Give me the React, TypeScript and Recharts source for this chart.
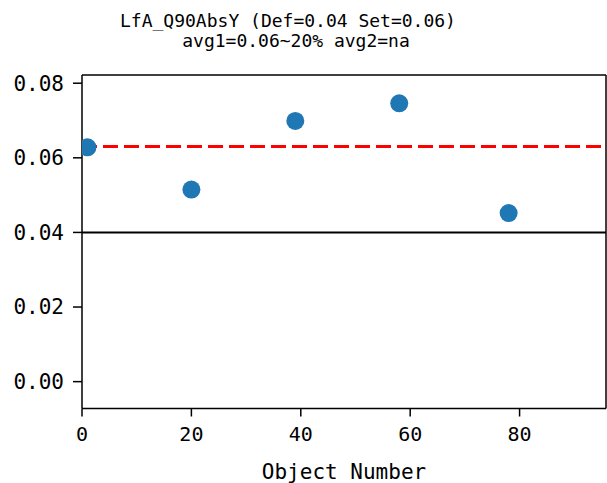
import { ScatterChart, Scatter, XAxis, YAxis, ReferenceLine } from "recharts";

const objectNumbers = [1, 20, 39, 58, 78];
const values = [0.0628, 0.0515, 0.0699, 0.0746, 0.0452];
const xTicks = [0, 20, 40, 60, 80];
const yTicks = [0, 0.02, 0.04, 0.06, 0.08];
const xDomain = [0, 95.8];
const yDomain = [-0.0072, 0.0822];
const avgLine = 0.063;
const defLine = 0.04;
const titleLines = ["LfA_Q90AbsY (Def=0.04 Set=0.06)", "avg1=0.06~20% avg2=na"];

const points = objectNumbers.map((x, i) => ({ x, y: values[i] }));

const font = "'DejaVu Sans Mono', monospace";

const Dot = (props: any) => <circle cx={props.cx} cy={props.cy} r={9} fill="#1f77b4" />;

export default function App() {
  return (
    <div style={{ position: "absolute", left: 0, top: 0, width: 607, height: 483, background: "#fff" }}>
      <svg width={607} height={75} style={{ position: "absolute", left: 0, top: 0 }}>
        <text x={288} y={27} textAnchor="middle" fontFamily={font} fontSize={18} fill="#000">
          {titleLines[0]}
        </text>
        <text x={296} y={47} textAnchor="middle" fontFamily={font} fontSize={18} fill="#000">
          {titleLines[1]}
        </text>
      </svg>
      <ScatterChart width={607} height={483} margin={{ top: 75, right: 1, bottom: 0, left: 0 }}>
        <XAxis
          type="number"
          dataKey="x"
          domain={xDomain}
          ticks={xTicks}
          allowDataOverflow
          height={74.5}
          tickSize={8}
          tickMargin={10}
          stroke="#000"
          strokeWidth={1.5}
          tick={{ fill: "#000", fontSize: 20, fontFamily: font }}
          label={{ value: "Object Number", position: "insideBottom", offset: 4, fill: "#000", fontSize: 21, fontFamily: font }}
        />
        <YAxis
          type="number"
          dataKey="y"
          domain={yDomain}
          ticks={yTicks}
          allowDataOverflow
          width={82}
          tickSize={9}
          tickMargin={9}
          stroke="#000"
          strokeWidth={1.5}
          tickFormatter={(v: number) => v.toFixed(2)}
          tick={{ fill: "#000", fontSize: 21, fontFamily: font }}
        />
        <ReferenceLine y={yDomain[1]} stroke="#000" strokeWidth={1.5} />
        <ReferenceLine x={xDomain[1]} stroke="#000" strokeWidth={1.5} />
        <ReferenceLine y={defLine} stroke="#000" strokeWidth={2} />
        <ReferenceLine y={avgLine} stroke="#ff0000" strokeWidth={3} strokeDasharray="15 6" />
        <Scatter data={points} fill="#1f77b4" shape={Dot} isAnimationActive={false} />
      </ScatterChart>
    </div>
  );
}
